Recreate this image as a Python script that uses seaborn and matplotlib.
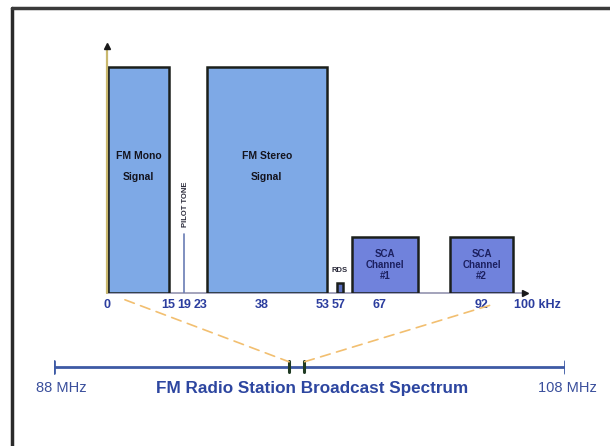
import matplotlib
matplotlib.use("Agg")
import matplotlib.pyplot as plt
import seaborn as sns
from matplotlib.lines import Line2D
from matplotlib.patches import ConnectionPatch

# ---------------- data ----------------
band_labels = ["FM Mono\nSignal", "FM Stereo\nSignal", "", "SCA\nChannel\n#1", "SCA\nChannel\n#2"]
band_start = [0.3, 24.5, 56.5, 60.2, 84.3]          # kHz
band_end = [15.3, 54.0, 58.0, 76.4, 99.8]           # kHz
band_level = [1.0, 1.0, 0.045, 0.25, 0.25]          # relative level
band_colors = ["#7ea9e6", "#7ea9e6", "#5a6fc0", "#7082dc", "#7082dc"]
rds_label = "RDS"
pilot_freq = 19
pilot_level = 0.26
pilot_label = "PILOT TONE"
tick_values = [0, 15, 19, 23, 38, 53, 57, 67, 92, 100]
tick_labels = ["0", "15", "19", "23", "38", "53", "57", "67", "92", "100 kHz"]
broadcast_range = [88, 108]                          # MHz
broadcast_labels = ["88 MHz", "108 MHz"]
station_marks = [97.2, 97.8]                         # MHz
broadcast_title = "FM Radio Station Broadcast Spectrum"

# ---------------- style ----------------
sns.set_theme(style="white")
plt.rcParams["font.family"] = ["Liberation Sans", "DejaVu Sans"]

W, H = 610, 446
fig = plt.figure(figsize=(W / 100, H / 100), dpi=100)
fig.patch.set_facecolor("white")

# main spectrum axes: 0 kHz -> x=107px, 100 kHz -> x=514px ; baseline y=293px, level 1 -> y=67px
px_per_khz = (514 - 107) / 100
px_per_unit = 293 - 67
xmax = 103
ymax = 1.1
ax = fig.add_axes([107 / W, 1 - 293 / H, xmax * px_per_khz / W, ymax * px_per_unit / H])
ax.set_xlim(0, xmax)
ax.set_ylim(0, ymax)
ax.set_facecolor("none")
for s in ax.spines.values():
    s.set_visible(False)

text_blue = "#2b3d9e"

# bands
for lab, x0, x1, lev, col in zip(band_labels, band_start, band_end, band_level, band_colors):
    ax.bar(x0, lev, width=x1 - x0, align="edge", color=col, edgecolor="#1b1f1b",
           linewidth=1.8, zorder=3)
    if lab:
        if lev >= 0.9:
            ax.text((x0 + x1) / 2, 0.56, lab, ha="center", va="center", fontsize=7.5,
                    fontweight="bold", color="#14141e", linespacing=2.3, zorder=4)
        else:
            ax.text((x0 + x1) / 2, lev * 0.5, lab, ha="center", va="center", fontsize=7,
                    fontweight="bold", color="#1c2060", linespacing=1.1, zorder=4)
    else:
        ax.text((x0 + x1) / 2, lev + 0.04, rds_label, ha="center", va="bottom",
                fontsize=5.5, fontweight="bold", color="#2a2a3a", zorder=4)

# pilot tone
ax.plot([pilot_freq, pilot_freq], [0, pilot_level], color="#6a7db4", lw=1.2, zorder=2)
ax.text(pilot_freq + 0.3, pilot_level + 0.03, pilot_label, rotation=90, ha="center",
        va="bottom", fontsize=5.5, fontweight="bold", color="#2a2a3a")

# axes arrows
ax.plot([0, 0], [0, 1.08], color="#c9b86e", lw=1.6, zorder=5, clip_on=False)
ax.plot([0], [1.095], marker="^", color="#1a1a1a", ms=5, zorder=6, clip_on=False)
ax.plot([0, xmax - 0.5], [0, 0], color="#a3a3bb", lw=1.4, zorder=1, clip_on=False)
ax.plot([xmax - 0.3], [0], marker=">", color="#1a1a1a", ms=5, zorder=6, clip_on=False)

ax.set_yticks([])
ax.set_xticks(tick_values)
ax.set_xticklabels(tick_labels)
ax.tick_params(axis="x", length=3, width=1, color="#1a2a1a", pad=4, direction="in")
for t in ax.get_xticklabels():
    t.set_fontsize(9)
    t.set_fontweight("bold")
    t.set_color(text_blue)
ax.get_xticklabels()[-1].set_horizontalalignment("left")
ax.set_xlabel("")
ax.set_ylabel("")

# broadcast spectrum axes: 88 MHz -> x=54px, 108 MHz -> x=565px, line at y=367px
ax2 = fig.add_axes([54 / W, 1 - 380 / H, (565 - 54) / W, 26 / H])
ax2.set_xlim(*broadcast_range)
ax2.set_ylim(-1, 1)
ax2.axis("off")
ax2.plot(broadcast_range, [0, 0], color="#3d5aa5", lw=2, solid_capstyle="butt")
for xv in broadcast_range:
    ax2.plot([xv, xv], [-0.45, 0.45], color="#3d5aa5", lw=2)
for xv in station_marks:
    ax2.plot([xv, xv], [-0.35, 0.45], color="#1f3a22", lw=2.2, zorder=5)

fig.text(61 / W, 1 - 388 / H, broadcast_labels[0], ha="center", va="center",
         fontsize=10.5, color="#3a4f9c")
fig.text(567 / W, 1 - 388 / H, broadcast_labels[1], ha="center", va="center",
         fontsize=10.5, color="#3a4f9c")
fig.text(312 / W, 1 - 388 / H, broadcast_title, ha="center", va="center",
         fontsize=12.3, fontweight="bold", color="#2d46a0")

# dashed zoom lines
for (xa, ya), xb in [((4.4, -0.03), station_marks[0]), ((94, -0.055), station_marks[1])]:
    con = ConnectionPatch(xyA=(xa, ya), coordsA=ax.transData, xyB=(xb, 0.4),
                          coordsB=ax2.transData, linestyle=(0, (6, 4)),
                          color="#f2bf70", lw=1.2, zorder=1)
    fig.add_artist(con)

# frame (left and top)
fig.add_artist(Line2D([12 / W, 12 / W], [0, 1 - 8 / H], transform=fig.transFigure,
                      color="#2b2b2b", lw=2.5))
fig.add_artist(Line2D([12 / W, 1], [1 - 8 / H, 1 - 8 / H], transform=fig.transFigure,
                      color="#3a3a3a", lw=2.5))

fig.savefig("out.png", dpi=100, facecolor="white")
